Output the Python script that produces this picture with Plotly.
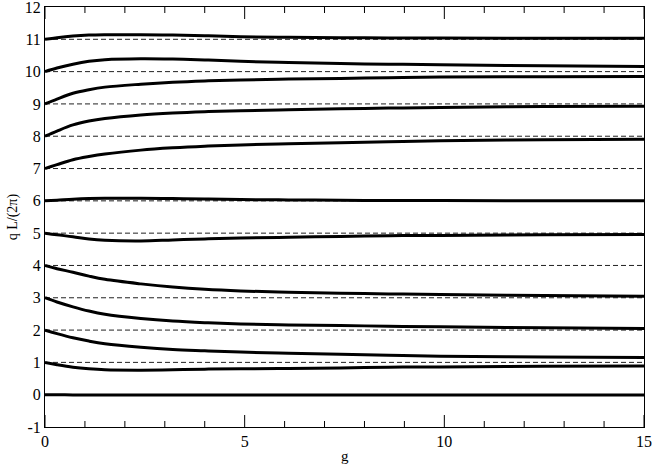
import plotly.graph_objects as go

g = [0, 0.3, 0.7, 1.1, 1.5, 2.4, 3.2, 4.0, 4.9, 6.1, 7.4, 8.6, 9.9, 12.5, 15]

q11 = [11.0, 11.05, 11.10, 11.13, 11.14, 11.14, 11.13, 11.11, 11.08, 11.06, 11.05, 11.04, 11.04, 11.03, 11.03]
q10 = [10.0, 10.11, 10.23, 10.32, 10.37, 10.40, 10.39, 10.36, 10.32, 10.28, 10.25, 10.23, 10.21, 10.18, 10.16]
q9 = [9.0, 9.15, 9.33, 9.44, 9.52, 9.61, 9.67, 9.71, 9.74, 9.77, 9.79, 9.81, 9.83, 9.84, 9.85]
q8 = [8.0, 8.16, 8.35, 8.47, 8.55, 8.66, 8.72, 8.76, 8.79, 8.82, 8.85, 8.87, 8.89, 8.92, 8.93]
q7 = [7.0, 7.12, 7.27, 7.37, 7.45, 7.57, 7.64, 7.69, 7.73, 7.77, 7.80, 7.83, 7.86, 7.89, 7.91]
q6 = [6.0, 6.02, 6.05, 6.07, 6.08, 6.08, 6.07, 6.06, 6.04, 6.03, 6.02, 6.01, 6.01, 6.0, 6.0]
q5 = [5.0, 4.95, 4.89, 4.82, 4.78, 4.76, 4.79, 4.82, 4.85, 4.87, 4.90, 4.92, 4.93, 4.95, 4.96]
q4 = [4.0, 3.90, 3.79, 3.67, 3.57, 3.43, 3.33, 3.26, 3.21, 3.17, 3.14, 3.12, 3.10, 3.07, 3.05]
q3 = [3.0, 2.87, 2.72, 2.59, 2.49, 2.36, 2.28, 2.23, 2.19, 2.16, 2.14, 2.12, 2.10, 2.07, 2.05]
q2 = [2.0, 1.89, 1.76, 1.66, 1.58, 1.47, 1.40, 1.36, 1.32, 1.28, 1.25, 1.22, 1.19, 1.17, 1.15]
q1 = [1.0, 0.93, 0.85, 0.80, 0.77, 0.76, 0.77, 0.79, 0.80, 0.81, 0.83, 0.85, 0.86, 0.88, 0.89]
q0 = [0.0, 0.0, -0.01, -0.01, -0.01, -0.01, -0.01, -0.01, -0.01, -0.01, -0.01, -0.01, -0.01, -0.01, -0.01]

curves = [q0, q1, q2, q3, q4, q5, q6, q7, q8, q9, q10, q11]
levels = [0, 1, 2, 3, 4, 5, 6, 7, 8, 9, 10, 11]
g_range = [0, 15]

y_ticks = [-1, 0, 1, 2, 3, 4, 5, 6, 7, 8, 9, 10, 11, 12]
y_labels = ["-1", "0", "1", "2", "3", "4", "5", "6", "7", "8", "9", "10", "11", "12"]
x_major = [0, 5, 10, 15]
x_minor = [0, 1, 2, 3, 4, 5, 6, 7, 8, 9, 10, 11, 12, 13, 14, 15]
x_labels = ["0", "5", "10", "15"]

fig = go.Figure()

for lv in levels:
    fig.add_trace(go.Scatter(x=g_range, y=[lv, lv], mode="lines",
                             line=dict(color="#222222", width=1, dash="5px,3px"),
                             showlegend=False, hoverinfo="skip"))

for c in curves:
    fig.add_trace(go.Scatter(x=g, y=c, mode="lines",
                             line=dict(color="black", width=3, shape="spline", smoothing=1.0),
                             showlegend=False))

font = "Liberation Serif"
fig.update_layout(
    width=654, height=464,
    margin=dict(l=45, r=10, t=7, b=37, autoexpand=False),
    plot_bgcolor="white", paper_bgcolor="white",
    font=dict(family=font, color="black", size=16),
    annotations=[
        dict(text="g", x=7.5, xref="x", y=-0.068, yref="paper",
             xanchor="center", yanchor="middle", showarrow=False,
             font=dict(size=15)),
        dict(text="q L/(2π)", x=-0.053, xref="paper", y=0.5, yref="paper",
             xanchor="center", yanchor="middle", showarrow=False, textangle=-90,
             font=dict(size=14)),
    ],
)
# tick marks drawn as short axis-anchored shapes (inside, top and bottom)
shapes = []
for v in x_minor:
    L = 12 if v in x_major else 6
    shapes.append(dict(type="line", xref="x", yref="paper", x0=v, x1=v, y0=0, y1=L / 420,
                       line=dict(color="black", width=1)))
    shapes.append(dict(type="line", xref="x", yref="paper", x0=v, x1=v, y0=1, y1=1 - L / 420,
                       line=dict(color="black", width=1)))
fig.update_layout(shapes=shapes)

fig.update_xaxes(
    range=[0, 15], tickvals=x_major, ticktext=x_labels, ticks="",
    showline=True, linecolor="black", linewidth=1, mirror=True,
    showgrid=False, zeroline=False, automargin=False,
    tickfont=dict(size=16),
)
fig.update_yaxes(
    range=[-1, 12], tickvals=y_ticks, ticktext=y_labels, ticks="",
    showline=True, linecolor="black", linewidth=1, mirror=True,
    showgrid=False, zeroline=False, automargin=False, ticklabeloverflow="allow",
    tickfont=dict(size=16),
)

fig.write_html("out.html", config={"displayModeBar": False},
               post_script="document.body.style.margin='0';")
